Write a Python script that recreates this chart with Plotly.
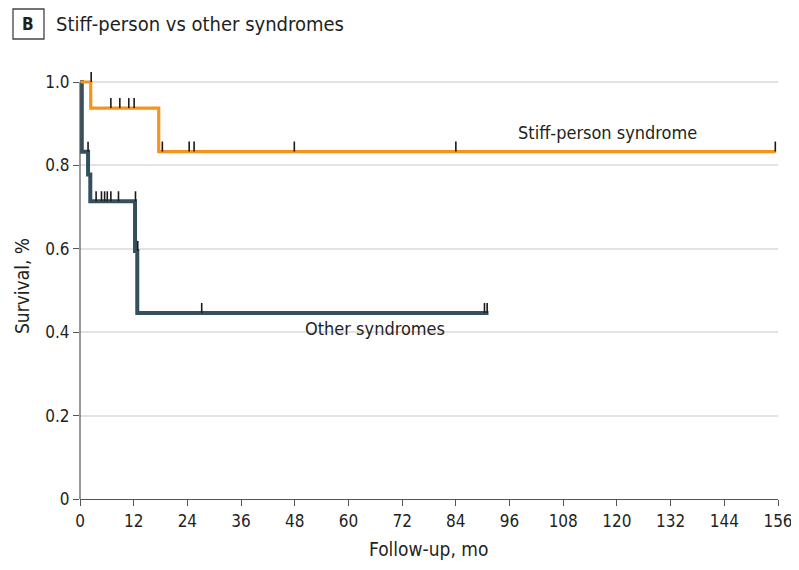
import plotly.graph_objects as go

# ---- Data ----
sps_time = [0, 2.4, 17.6, 155.5]
sps_surv = [1.0, 0.9375, 0.8333, 0.8333]
sps_cens_time = [2.5, 6.9, 8.9, 10.9, 12.1, 18.4, 24.4, 25.5, 47.9, 84.0, 155.4]
sps_cens_surv = [1.0, 0.9375, 0.9375, 0.9375, 0.9375, 0.8333, 0.8333, 0.8333, 0.8333, 0.8333, 0.8333]

oth_time = [0, 0.4, 1.8, 2.3, 12.3, 12.8, 91.3]
oth_surv = [1.0, 0.833, 0.778, 0.714, 0.595, 0.446, 0.446]
oth_cens_time = [1.8, 3.6, 4.8, 5.5, 6.1, 6.9, 8.6, 12.4, 12.9, 27.2, 90.4, 91.0]
oth_cens_surv = [0.833, 0.714, 0.714, 0.714, 0.714, 0.714, 0.714, 0.714, 0.595, 0.446, 0.446, 0.446]

x_ticks = list(range(0, 157, 12))
y_ticks = [0, 0.2, 0.4, 0.6, 0.8, 1.0]
y_tick_labels = ["0", "0.2", "0.4", "0.6", "0.8", "1.0"]

ORANGE = "#F5931A"
TEAL = "#33515C"
FONT = "Liberation Sans Narrow, DejaVu Sans Condensed, Arial Narrow, sans-serif"
TXT = "#231f20"
TICK_LEN = 0.024

fig = go.Figure()

fig.add_trace(go.Scatter(x=oth_time, y=oth_surv, mode="lines", line=dict(shape="hv", color=TEAL, width=4),
                         hoverinfo="skip", showlegend=False))
fig.add_trace(go.Scatter(x=sps_time, y=sps_surv, mode="lines", line=dict(shape="hv", color=ORANGE, width=3.2),
                         hoverinfo="skip", showlegend=False))

for ct, cs in [(oth_cens_time, oth_cens_surv), (sps_cens_time, sps_cens_surv)]:
    fig.add_trace(go.Scatter(
        x=ct, y=cs, mode="markers", marker=dict(size=1, opacity=0),
        error_y=dict(type="data", symmetric=False, array=[TICK_LEN] * len(ct), arrayminus=[0] * len(ct),
                     thickness=1.6, width=0, color="#1a1a1a"),
        hoverinfo="skip", showlegend=False, cliponaxis=False))

fig.update_layout(
    width=791, height=562,
    margin=dict(l=72, r=21, t=49, b=71, autoexpand=False),
    plot_bgcolor="white", paper_bgcolor="white",
    font=dict(family=FONT, size=17, color=TXT),
    xaxis=dict(range=[0, 156], tickvals=x_ticks, ticks="outside", ticklen=6, tickcolor="#555",
               showline=True, linecolor="#555", linewidth=1.2, showgrid=False, zeroline=False,
               tickfont=dict(size=17, color=TXT), automargin=False),
    yaxis=dict(range=[0, 1.06], tickvals=y_ticks, ticktext=y_tick_labels, ticks="outside", ticklen=6,
               tickcolor="#555", showline=False, showgrid=True, gridcolor="#e3e3e3", gridwidth=1.5,
               zeroline=False, tickfont=dict(size=17, color=TXT), automargin=False),
    shapes=[
        dict(type="line", xref="paper", yref="y", x0=0, x1=0, y0=0, y1=1.0, line=dict(color="#555", width=1.2)),
        dict(type="rect", xref="paper", yref="paper", x0=-0.096, x1=-0.0516, y0=1.0407, y1=1.1086,
             line=dict(color="#444", width=1.3)),
    ],
    annotations=[
        dict(text="<b>B</b>", xref="paper", yref="paper", x=-0.0738, y=1.0747, showarrow=False,
             xanchor="center", yanchor="middle", font=dict(size=17, color=TXT)),
        dict(text="Stiff-person vs other syndromes", xref="paper", yref="paper", x=-0.037, y=1.0747,
             showarrow=False, xanchor="left", yanchor="middle", font=dict(size=20, color=TXT)),
        dict(text="Survival, %", xref="paper", yref="paper", x=-0.083, y=0.482, textangle=-90,
             showarrow=False, xanchor="center", yanchor="middle", font=dict(size=19, color=TXT)),
        dict(text="Follow-up, mo", xref="paper", yref="paper", x=0.4986, y=-0.113,
             showarrow=False, xanchor="center", yanchor="middle", font=dict(size=19, color=TXT)),
        dict(text="Stiff-person syndrome", x=118, y=0.878, xref="x", yref="y", showarrow=False,
             xanchor="center", yanchor="middle", font=dict(size=18, color=TXT)),
        dict(text="Other syndromes", x=65.9, y=0.408, xref="x", yref="y", showarrow=False,
             xanchor="center", yanchor="middle", font=dict(size=18, color=TXT)),
    ],
)

fig.write_html("out.html")
